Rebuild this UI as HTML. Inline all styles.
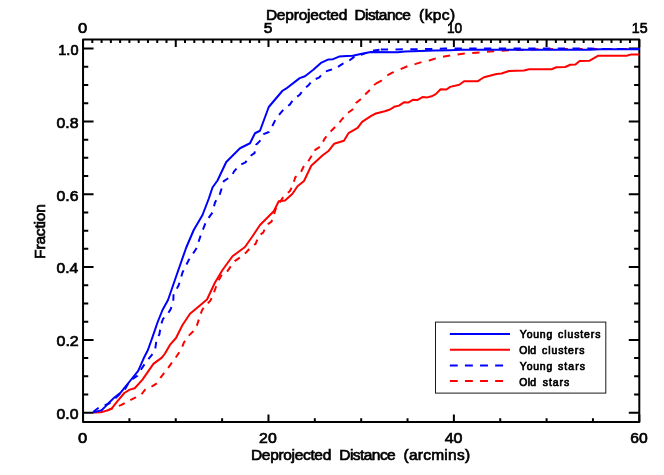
<!DOCTYPE html>
<html><head><meta charset="utf-8"><title>plot</title>
<style>
html,body{margin:0;padding:0;background:#fff;}
body{width:664px;height:475px;overflow:hidden;}
svg{display:block;will-change:transform;}
text{font-family:"Liberation Sans",sans-serif;fill:#000;stroke:#000;stroke-width:0.7px;}
</style></head><body>
<svg width="664" height="475" viewBox="0 0 664 475">
<rect x="0" y="0" width="664" height="475" fill="#ffffff"/>
<g stroke="#000" stroke-width="2" fill="none" stroke-linecap="butt">
<rect x="83.05" y="39.45" width="556.25" height="382.55" stroke-linejoin="round"/>
<path d="M83.05 422.0v-7.5M129.40 422.0v-3.7M175.76 422.0v-3.7M222.11 422.0v-3.7M268.47 422.0v-7.5M314.82 422.0v-3.7M361.18 422.0v-3.7M407.53 422.0v-3.7M453.88 422.0v-7.5M500.24 422.0v-3.7M546.59 422.0v-3.7M592.95 422.0v-3.7M639.30 422.0v-7.5M83.05 39.45v7.5M92.32 39.45v3.5M101.59 39.45v3.5M110.86 39.45v3.5M120.13 39.45v3.5M129.40 39.45v3.5M138.68 39.45v3.5M147.95 39.45v3.5M157.22 39.45v3.5M166.49 39.45v3.5M175.76 39.45v7.5M185.03 39.45v3.5M194.30 39.45v3.5M203.57 39.45v3.5M212.84 39.45v3.5M222.11 39.45v3.5M231.38 39.45v3.5M240.65 39.45v3.5M249.93 39.45v3.5M259.20 39.45v3.5M268.47 39.45v7.5M277.74 39.45v3.5M287.01 39.45v3.5M296.28 39.45v3.5M305.55 39.45v3.5M314.82 39.45v3.5M324.09 39.45v3.5M333.36 39.45v3.5M342.63 39.45v3.5M351.90 39.45v3.5M361.18 39.45v7.5M370.45 39.45v3.5M379.72 39.45v3.5M388.99 39.45v3.5M398.26 39.45v3.5M407.53 39.45v3.5M416.80 39.45v3.5M426.07 39.45v3.5M435.34 39.45v3.5M444.61 39.45v3.5M453.88 39.45v7.5M463.15 39.45v3.5M472.43 39.45v3.5M481.70 39.45v3.5M490.97 39.45v3.5M500.24 39.45v3.5M509.51 39.45v3.5M518.78 39.45v3.5M528.05 39.45v3.5M537.32 39.45v3.5M546.59 39.45v7.5M555.86 39.45v3.5M565.13 39.45v3.5M574.40 39.45v3.5M583.67 39.45v3.5M592.95 39.45v3.5M602.22 39.45v3.5M611.49 39.45v3.5M620.76 39.45v3.5M630.03 39.45v3.5M639.30 39.45v7.5M83.05 412.70h10.5M639.3 412.70h-10.5M83.05 394.50h5.2M639.3 394.50h-5.2M83.05 376.29h5.2M639.3 376.29h-5.2M83.05 358.08h5.2M639.3 358.08h-5.2M83.05 339.88h10.5M639.3 339.88h-10.5M83.05 321.68h5.2M639.3 321.68h-5.2M83.05 303.47h5.2M639.3 303.47h-5.2M83.05 285.26h5.2M639.3 285.26h-5.2M83.05 267.06h10.5M639.3 267.06h-10.5M83.05 248.86h5.2M639.3 248.86h-5.2M83.05 230.65h5.2M639.3 230.65h-5.2M83.05 212.45h5.2M639.3 212.45h-5.2M83.05 194.24h10.5M639.3 194.24h-10.5M83.05 176.04h5.2M639.3 176.04h-5.2M83.05 157.83h5.2M639.3 157.83h-5.2M83.05 139.63h5.2M639.3 139.63h-5.2M83.05 121.42h10.5M639.3 121.42h-10.5M83.05 103.21h5.2M639.3 103.21h-5.2M83.05 85.01h5.2M639.3 85.01h-5.2M83.05 66.81h5.2M639.3 66.81h-5.2M83.05 48.60h10.5M639.3 48.60h-10.5"/>
</g>
<clipPath id="cp"><rect x="83.05" y="39.45" width="556.25" height="382.55"/></clipPath>
<g clip-path="url(#cp)" fill="none" stroke-width="2" stroke-linejoin="round">
<polyline points="107.00,410.60 112.50,408.30 121.50,404.90 127.75,401.40 134.70,397.90 140.90,395.10 145.10,389.60 152.00,386.40 156.90,383.30 160.40,377.80 165.25,371.50 168.00,368.00 176.80,356.00 181.70,348.30 183.75,342.80 188.60,335.80 192.80,331.70 196.90,325.40 199.00,319.20 201.80,310.80 204.60,306.00 210.10,301.10 212.90,295.60 217.50,282.50 222.20,273.80 227.10,271.60 231.90,264.60 234.70,261.10 241.70,256.30 245.80,252.80 251.40,246.60 255.60,243.80 259.00,235.40 263.20,232.70 266.70,225.00 271.50,221.60 276.25,207.50 283.75,196.25 290.00,190.90 293.00,184.80 295.30,177.30 300.60,172.70 303.60,166.70 308.20,161.40 312.00,155.30 312.90,155.20 315.20,149.90 321.20,146.10 324.20,139.30 328.80,133.20 332.60,129.50 337.90,124.20 341.70,119.60 347.00,113.50 352.30,109.80 356.00,103.00 360.60,99.20 365.90,93.80 370.50,89.30 375.40,83.80" stroke="#ff0000" stroke-dasharray="6.4 6.4"/>
<polyline points="375.40,83.80 381.40,80.70 386.30,75.90 392.30,72.70 398.90,69.90 408.60,65.70 415.80,63.90 422.40,61.80 430.00,60.30 436.30,58.20 447.00,55.90 461.00,53.90 476.00,52.70 490.00,51.50 510.00,50.30 530.00,49.40 560.00,49.00 639.30,49.00" stroke="#ff0000" stroke-dasharray="7.3 7.45"/>
<polyline points="94.00,412.60 101.00,412.30 107.60,410.40 111.80,408.30 117.30,401.40 124.30,393.00 129.80,389.60 134.70,388.20 142.30,379.90 153.40,363.90 161.80,357.60 165.00,353.50 169.90,344.90 176.00,338.00 182.50,325.00 190.00,313.75 197.50,307.50 207.00,299.50 215.00,282.50 222.50,270.00 232.50,256.25 245.00,247.00 252.50,236.25 260.00,225.00 273.75,211.25 278.75,201.25 285.00,200.50 292.50,193.75 297.50,186.25 304.00,181.00 311.25,165.75 322.70,155.20 328.80,150.70 334.10,143.80 343.90,140.80 348.50,133.20 357.60,127.90 362.10,121.90 371.20,115.80 375.80,113.50 384.80,111.30 390.00,109.50 394.20,106.80 399.00,105.60 403.90,102.30 408.10,102.60 412.90,99.80 417.70,99.90 422.50,97.10 427.30,97.40 431.60,96.30 435.80,94.10 440.60,89.30 446.40,89.50 450.20,86.90 459.30,84.70 464.10,81.20 477.90,81.20 484.00,77.25 496.50,74.00 501.50,73.50 509.00,71.00 524.00,70.50 529.00,69.25 551.50,69.25 556.50,67.25 565.25,67.00 570.25,64.75 575.50,64.50 579.60,60.90 589.30,60.80 598.30,55.70 626.60,55.70 631.40,54.40 639.30,54.40" stroke="#ff0000"/>
<polyline points="93.50,411.80 97.90,408.30 101.40,406.70 109.00,403.50 112.50,400.70 119.40,394.40 123.60,391.70 128.40,383.30 131.20,379.90 137.50,375.70 140.25,370.80 146.00,362.00 152.75,353.90 155.30,348.30 156.70,338.60 159.40,334.40 160.80,325.40 162.90,319.20 167.80,313.60 170.60,309.40 173.30,301.10 173.50,295.00 178.75,285.00 182.50,272.50 188.75,260.00 196.25,248.75 201.25,233.75 206.25,221.25 212.50,212.50 215.00,202.50 220.00,193.75 223.80,181.20 231.80,175.90 234.10,171.40 239.40,165.30 245.50,162.30 250.00,156.20 254.50,153.20 256.10,144.80 259.80,141.10 263.60,134.20 268.90,132.00 272.70,125.20 275.80,119.10 280.30,113.40 284.50,108.40 289.80,104.60 293.60,99.30 299.70,94.80 303.50,89.50 308.80,84.90 312.60,80.40 319.40,77.30 323.90,72.00 330.80,69.80 336.80,67.50 342.90,63.70 348.20,61.40 354.20,56.90 361.80,54.60 369.40,51.60 373.90,50.40 380.80,49.60" stroke="#0000ff" stroke-dasharray="6.5 6.5"/>
<polyline points="380.80,49.50 420.00,49.20 445.00,48.60 590.00,48.40 597.00,49.00 639.30,49.10" stroke="#0000ff" stroke-dasharray="7.3 7.45"/>
<polyline points="92.80,412.20 97.00,411.40 101.60,410.20 105.00,406.90 109.00,402.80 113.20,398.60 120.80,392.40 125.50,386.70 129.80,381.25 138.20,370.80 143.70,358.30 147.90,350.00 152.50,337.20 157.50,322.50 162.50,310.00 168.00,300.00 177.50,272.50 186.25,247.50 193.75,230.00 202.50,215.00 208.75,198.75 212.50,187.50 217.50,180.50 226.25,162.00 240.00,148.25 250.00,143.25 255.00,133.25 260.00,130.75 268.75,107.00 282.50,90.75 286.00,88.70 299.70,78.10 305.00,76.30 313.30,69.80 320.90,62.90 328.50,59.40 333.00,59.20 339.10,56.60 346.70,55.90 352.70,55.70 361.80,53.80 370.90,52.10 397.50,52.25 405.00,51.50 435.00,50.60 450.00,50.20 462.00,49.70 590.00,49.70 600.00,49.30 639.30,49.20" stroke="#0000ff"/>
</g>
<text x="265.90" y="20.30" style="font-size:15.5px;letter-spacing:-0.210px;stroke-width:0.7px">Deprojected</text>
<text x="354.40" y="20.30" style="font-size:15.5px;letter-spacing:-0.557px;stroke-width:0.7px">Distance</text>
<text x="419.10" y="20.30" style="font-size:15.5px;letter-spacing:0.412px;stroke-width:0.7px">(kpc)</text>
<text x="251.00" y="459.90" style="font-size:15.5px;letter-spacing:-0.330px;stroke-width:0.7px">Deprojected</text>
<text x="339.30" y="459.90" style="font-size:15.5px;letter-spacing:-0.557px;stroke-width:0.7px">Distance</text>
<text x="403.50" y="459.90" style="font-size:15.5px;letter-spacing:0.250px;stroke-width:0.7px">(arcmins)</text>
<text transform="translate(78.25,443.00) scale(1.0687,1)" x="-0.25" y="0" style="font-size:15.5px;stroke-width:0.7px">0</text>
<text transform="translate(259.60,443.00) scale(1.0242,1)" x="-0.50" y="0" style="font-size:15.5px;stroke-width:0.7px">20</text>
<text transform="translate(444.70,443.00) scale(1.0353,1)" x="-0.00" y="0" style="font-size:15.5px;stroke-width:0.7px">40</text>
<text transform="translate(630.70,443.00) scale(1.0121,1)" x="-0.50" y="0" style="font-size:15.5px;stroke-width:0.7px">60</text>
<text transform="translate(78.25,33.30) scale(1.0687,1)" x="-0.25" y="0" style="font-size:15.5px;stroke-width:0.7px">0</text>
<text transform="translate(264.10,33.30) scale(1.0000,1)" x="-0.25" y="0" style="font-size:15.5px;stroke-width:0.7px">5</text>
<text transform="translate(447.60,33.30) scale(0.8862,1)" x="-0.75" y="0" style="font-size:15.5px;stroke-width:0.7px">10</text>
<text transform="translate(632.50,33.30) scale(0.9169,1)" x="-0.75" y="0" style="font-size:15.5px;stroke-width:0.7px">15</text>
<text transform="translate(56.80,419.10) scale(1.0190,1)" x="-0.25" y="0" style="font-size:15.5px;stroke-width:0.7px">0.0</text>
<text transform="translate(56.80,346.28) scale(1.0313,1)" x="-0.25" y="0" style="font-size:15.5px;stroke-width:0.7px">0.2</text>
<text transform="translate(56.80,273.46) scale(1.0071,1)" x="-0.25" y="0" style="font-size:15.5px;stroke-width:0.7px">0.4</text>
<text transform="translate(56.80,200.64) scale(1.0190,1)" x="-0.25" y="0" style="font-size:15.5px;stroke-width:0.7px">0.6</text>
<text transform="translate(56.80,127.82) scale(1.0190,1)" x="-0.25" y="0" style="font-size:15.5px;stroke-width:0.7px">0.8</text>
<text transform="translate(59.00,55.00) scale(0.9366,1)" x="-0.75" y="0" style="font-size:15.5px;stroke-width:0.7px">1.0</text>
<text x="519.85" y="337.90" style="font-size:10.4px;letter-spacing:0.825px;stroke-width:0.7px">Young</text>
<text x="558.00" y="337.90" style="font-size:10.4px;letter-spacing:0.950px;stroke-width:0.7px">clusters</text>
<text x="519.35" y="354.00" style="font-size:10.4px;letter-spacing:0.250px;stroke-width:0.7px">Old</text>
<text x="542.00" y="354.00" style="font-size:10.4px;letter-spacing:0.950px;stroke-width:0.7px">clusters</text>
<text x="519.85" y="369.70" style="font-size:10.4px;letter-spacing:0.825px;stroke-width:0.7px">Young</text>
<text x="558.00" y="369.70" style="font-size:10.4px;letter-spacing:1.100px;stroke-width:0.7px">stars</text>
<text x="519.35" y="385.60" style="font-size:10.4px;letter-spacing:0.250px;stroke-width:0.7px">Old</text>
<text x="542.80" y="385.60" style="font-size:10.4px;letter-spacing:0.975px;stroke-width:0.7px">stars</text>
<g transform="translate(45.2,257.9) rotate(-90)">
<text x="-1.00" y="0.00" style="font-size:15.5px;letter-spacing:-0.164px;stroke-width:0.7px">Fraction</text>
</g>
<rect x="435.5" y="322.1" width="170.3" height="71.0" fill="none" stroke="#1a1a1a" stroke-width="1"/>
<g fill="none" stroke-width="2">
<path d="M449.85 333.95H510" stroke="#0000ff"/>
<path d="M449.85 349.7H510" stroke="#ff0000"/>
<path d="M449.85 365.4H510" stroke="#0000ff" stroke-dasharray="7.9 7.2"/>
<path d="M449.85 381.1H510" stroke="#ff0000" stroke-dasharray="7.9 7.2"/>
</g>
</svg></body></html>
